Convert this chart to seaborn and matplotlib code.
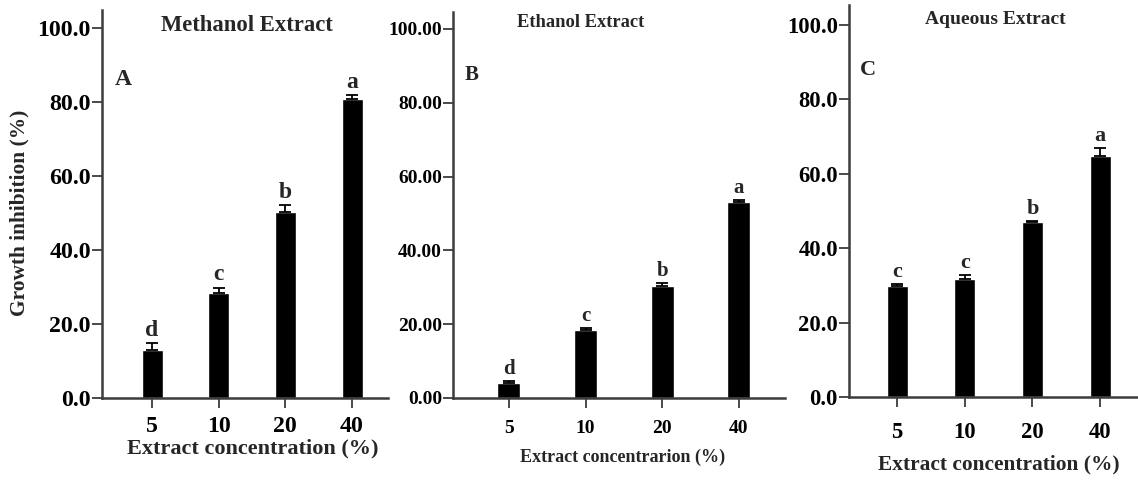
import matplotlib
matplotlib.use("Agg")
import matplotlib.pyplot as plt
from matplotlib.ticker import FormatStrFormatter
import numpy as np
import seaborn as sns

# Growth inhibition (%) at each extract concentration (%)
concentrations = ["5", "10", "20", "40"]

methanol = [13.0, 28.4, 50.3, 80.8]
methanol_err = [1.8, 1.5, 1.9, 1.3]
methanol_letters = ["d", "c", "b", "a"]

ethanol = [4.0, 18.4, 30.3, 53.2]
ethanol_err = [0.5, 0.5, 0.8, 0.5]
ethanol_letters = ["d", "c", "b", "a"]

aqueous = [29.8, 31.7, 47.0, 64.8]
aqueous_err = [0.5, 1.0, 0.4, 2.2]
aqueous_letters = ["c", "c", "b", "a"]

sns.set_theme(style="ticks")
plt.rcParams["font.family"] = ["Liberation Serif", "DejaVu Serif"]
plt.rcParams["font.weight"] = "bold"
plt.rcParams["xtick.bottom"] = True
plt.rcParams["ytick.left"] = True

W, H = 1138, 487
fig = plt.figure(figsize=(W / 100, H / 100), dpi=100)
fig.patch.set_facecolor("white")

spine_col = "#3c3c3c"


def px_axes(left, right, bottom, top):
    return fig.add_axes([left / W, (H - bottom) / H, (right - left) / W, (bottom - top) / H])


panels = [
    dict(box=(102, 388, 398, 10), vals=methanol, err=methanol_err, letters=methanol_letters,
         ylim=105.0, xlim=(-0.75, 3.54), width=0.315, fmt="%.1f", tick_fs=17.2, let_fs=17,
         title="Methanol Extract", title_xy=(0.507, 0.961), title_fs=16.3,
         tag="A", tag_xy=(0.073, 0.82), tag_fs=17,
         xlabel="Extract concentration (%)", xlabel_xy=(0.528, -0.129), xlabel_fs=16,
         xtick_pad=6),
    dict(box=(453, 785, 398, 12), vals=ethanol, err=ethanol_err, letters=ethanol_letters,
         ylim=104.6, xlim=(-0.73, 3.6), width=0.30, fmt="%.2f", tick_fs=14, let_fs=15,
         title="Ethanol Extract", title_xy=(0.383, 0.974), title_fs=13.3,
         tag="B", tag_xy=(0.057, 0.837), tag_fs=15,
         xlabel="Extract concentrarion (%)", xlabel_xy=(0.51, -0.155), xlabel_fs=13,
         xtick_pad=8.5),
    dict(box=(849, 1138, 397, 5), vals=aqueous, err=aqueous_err, letters=aqueous_letters,
         ylim=105.4, xlim=(-0.71, 3.56), width=0.31, fmt="%.1f", tick_fs=16.3, let_fs=16,
         title="Aqueous Extract", title_xy=(0.505, 0.962), title_fs=14,
         tag="C", tag_xy=(0.066, 0.834), tag_fs=16,
         xlabel="Extract concentration (%)", xlabel_xy=(0.52, -0.173), xlabel_fs=15.4,
         xtick_pad=11),
]

for i, p in enumerate(panels):
    ax = px_axes(*p["box"])
    sns.barplot(x=concentrations, y=p["vals"], order=concentrations, color="black",
                width=p["width"], errorbar=None, ax=ax, saturation=1)
    pos = np.arange(len(concentrations))
    ax.errorbar(pos, p["vals"], yerr=[np.zeros(len(pos)), p["err"]], fmt="none",
                ecolor="black", elinewidth=1.3, capsize=4, capthick=1.3)
    for xi, v, e, lt in zip(pos, p["vals"], p["err"], p["letters"]):
        ax.annotate(lt, (xi, v + e), xytext=(0, 1.5), textcoords="offset points",
                    ha="center", va="bottom", fontsize=p["let_fs"], fontweight="bold")

    ax.set_ylim(0, p["ylim"])
    ax.set_xlim(*p["xlim"])
    ax.set_xticks(pos)
    ax.set_xticklabels(concentrations)
    ax.set_yticks([0, 20, 40, 60, 80, 100])
    ax.yaxis.set_major_formatter(FormatStrFormatter(p["fmt"]))

    for s in ["top", "right"]:
        ax.spines[s].set_visible(False)
    for s in ["left", "bottom"]:
        ax.spines[s].set_color(spine_col)
        ax.spines[s].set_linewidth(1.8)

    ax.tick_params(axis="both", which="major", direction="out", length=7, width=1.3,
                   color=spine_col, labelcolor="black", bottom=True, left=True)
    ax.tick_params(axis="y", pad=1, labelsize=p["tick_fs"])
    ax.tick_params(axis="x", pad=p["xtick_pad"], labelsize=p["tick_fs"])
    for t in ax.xaxis.get_major_ticks():
        t.tick1line.set_visible(True)
    for lab in ax.get_xticklabels() + ax.get_yticklabels():
        lab.set_fontweight("bold")

    ax.text(*p["title_xy"], p["title"], transform=ax.transAxes, ha="center", va="center",
            fontsize=p["title_fs"], fontweight="bold")
    ax.text(*p["tag_xy"], p["tag"], transform=ax.transAxes, ha="center", va="center",
            fontsize=p["tag_fs"], fontweight="bold")

    ax.set_xlabel(p["xlabel"], fontsize=p["xlabel_fs"], fontweight="bold")
    ax.xaxis.label.set_va("center")
    ax.xaxis.set_label_coords(*p["xlabel_xy"])
    if i == 0:
        ax.set_ylabel("Growth inhibition (%)", fontsize=15.4, fontweight="bold")
        ax.yaxis.label.set_va("center")
        ax.yaxis.set_label_coords(-0.287, 0.477)
    else:
        ax.set_ylabel("")
    ax.set_facecolor("none")

fig.savefig("out.png", dpi=100, facecolor="white")
